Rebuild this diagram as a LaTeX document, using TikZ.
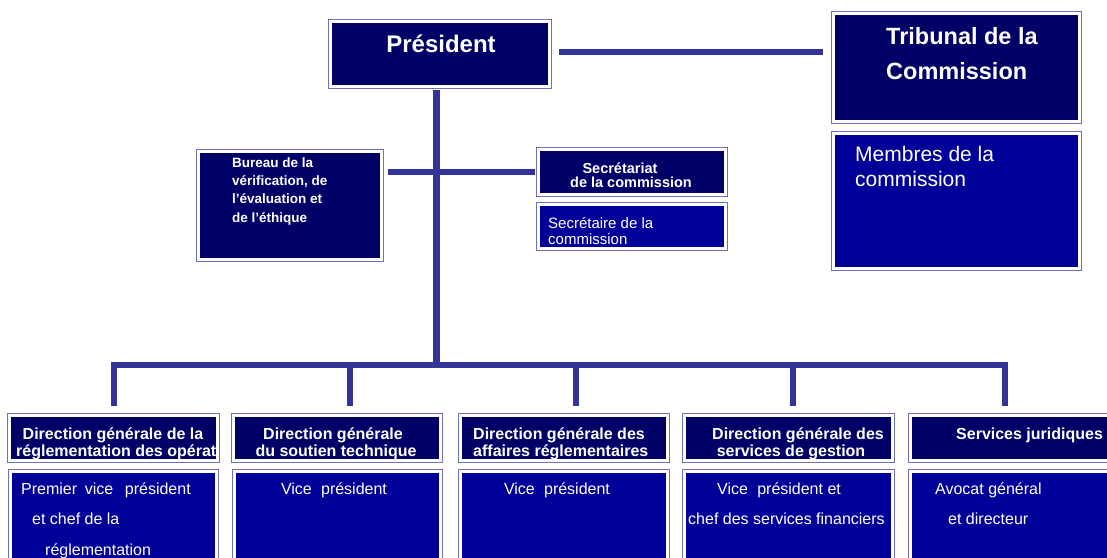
\documentclass[tikz,border=0pt]{standalone}
\usepackage{fontspec}
\setmainfont{Liberation Sans}
\definecolor{navy}{HTML}{000066}
\definecolor{royal}{HTML}{000099}
\definecolor{barblue}{HTML}{333399}
\definecolor{framecol}{HTML}{6F6FBF}
\begin{document}
\begin{tikzpicture}[x=1pt,y=-1pt,
  box/.style={rectangle, inner sep=0pt, outer sep=0pt, fill=#1,
    draw=white, line width=3pt, preaction={draw=framecol, line width=5pt}},
  link/.style={draw=barblue, line width=6.5pt},
  lab/.style={text=white, inner sep=0pt, font=\fontsize{#1}{#1}\selectfont},
  blab/.style={text=white, inner sep=0pt, font=\fontsize{#1}{#1}\selectfont\bfseries},
  hd/.style={box=navy, minimum width=#1, minimum height=45pt},
  lo/.style={box=royal, minimum width=#1, minimum height=126pt}
]
\useasboundingbox (0,0) rectangle (1107,557);
\clip (0,0) rectangle (1107,557);

% top level
\node[box=navy, minimum width=219pt, minimum height=65pt] (pres) at (440,54) {};
\node[box=navy, minimum width=246pt, minimum height=108pt] (trib) at (956.5,67.5) {};
\node[box=royal, minimum width=246pt, minimum height=135pt] (memb) at (956.5,201) {};

% staff units
\node[box=navy, minimum width=183pt, minimum height=108pt] (bur) at (290,205.5) {};
\node[box=navy, minimum width=187pt, minimum height=45pt] (secr) at (632,172) {};
\node[box=royal, minimum width=187pt, minimum height=44pt] (secy) at (632,226.5) {};

% directorates: headers and heads
\node[hd=208pt] (h1) at (113.5,438) {};
\node[hd=207pt] (h2) at (337,438) {};
\node[hd=207pt] (h3) at (564,438) {};
\node[hd=208pt] (h4) at (788.5,438) {};
\node[hd=207pt] (h5) at (1014,438) {};
\node[lo=206pt] (l1) at (113.5,534.5) {};
\node[lo=206pt] (l2) at (337,534.5) {};
\node[lo=207pt] (l3) at (564,534.5) {};
\node[lo=208pt] (l4) at (788.5,534.5) {};
\node[lo=207pt] (l5) at (1014,534.5) {};

% connectors
\coordinate (pe) at ([yshift=2pt]pres.east);
\draw[link, line width=6pt, shorten <=9.5pt, shorten >=10.5pt] (pe) -- (pe -| trib.west);
\coordinate (ps) at ([xshift=-3.5pt]pres.south);
\coordinate (busL) at (116,365);
\coordinate (busR) at (1002,365);
\draw[link, shorten <=3.5pt] (ps) -- (ps |- busL);
\draw[link, shorten <=3.5pt, shorten >=6.5pt] (secr.west) -- (secr.west -| bur.east);
\draw[link, line width=6pt] (busL) -- (busR);
\coordinate (d1) at (114,362);
\coordinate (d2) at (350,362);
\coordinate (d3) at (576,362);
\coordinate (d4) at (793,362);
\coordinate (d5) at (1005,362);
\foreach \i in {1,...,5}
  \draw[link, line width=6pt, shorten >=9.5pt] (d\i) -- (d\i |- h\i.north);

% labels
\node[blab=24, anchor=base] (tPres) at (441,52) {Président};
\node[blab=23.5, anchor=base west] (tTrib1) at (886,44.3) {Tribunal de la};
\node[blab=23.5, anchor=base west] (tTrib2) at (886,79) {Commission};
\node[lab=21, anchor=base west] (tMemb1) at (855,161.7) {Membres de la};
\node[lab=21, anchor=base west] (tMemb2) at (855,186) {commission};

\node[blab=13.5, anchor=base west] (tBur1) at (232,167.5) {Bureau de la};
\node[blab=13.5, anchor=base west] (tBur2) at (232,185.7) {vérification, de};
\node[blab=13.5, anchor=base west] (tBur3) at (232,203.9) {l’évaluation et};
\node[blab=13.5, anchor=base west] (tBur4) at (232,222.1) {de l’éthique};
\node[blab=14.5, anchor=base] (tSecr1) at (620,173.3) {Secrétariat};
\node[blab=14.5, anchor=base] (tSecr2) at (631,187.3) {de la commission};
\node[lab=15, anchor=base west] (tSecy1) at (548,228.3) {Secrétaire de la};
\node[lab=15, anchor=base west] (tSecy2) at (548,244) {commission};

\node[blab=16, anchor=base] (tH1a) at (113,439) {Direction générale de la};
\begin{scope}
  \clip (h1.north west) rectangle (h1.south east);
  \node[blab=16, anchor=base west] (tH1b) at (16,456) {réglementation des opérati};
\end{scope}
\node[blab=16, anchor=base] (tH2a) at (333,439) {Direction générale};
\node[blab=16, anchor=base] (tH2b) at (336,456) {du soutien technique};
\node[blab=16, anchor=base west] (tH3a) at (473,439) {Direction générale des};
\node[blab=16, anchor=base west] (tH3b) at (473,456) {affaires réglementaires};
\node[blab=16, anchor=base] (tH4a) at (798,439) {Direction générale des};
\node[blab=16, anchor=base] (tH4b) at (791,456) {services de gestion};
\node[blab=16, anchor=base west] (tH5) at (956,439) {Services juridiques};

\node[lab=16, anchor=base west] (tL1a) at (21,494.3) {Premier\hspace{0.2em} vice\hspace{0.45em} président};
\node[lab=16, anchor=base west] (tL1b) at (32,524.3) {et chef de la};
\node[lab=16, anchor=base west] (tL1c) at (45,555) {réglementation};
\node[lab=16, anchor=base] (tL2) at (334,494.3) {Vice\hspace{0.3em} président};
\node[lab=16, anchor=base] (tL3) at (557,494.3) {Vice\hspace{0.3em} président};
\node[lab=16, anchor=base west] (tL4a) at (717,494.3) {Vice\hspace{0.3em} président et};
\node[lab=16, anchor=base west] (tL4b) at (688,524.3) {chef des services financiers};
\node[lab=16, anchor=base west] (tL5a) at (935,494.3) {Avocat général};
\node[lab=16, anchor=base west] (tL5b) at (948,524.3) {et directeur};
\end{tikzpicture}
\end{document}
